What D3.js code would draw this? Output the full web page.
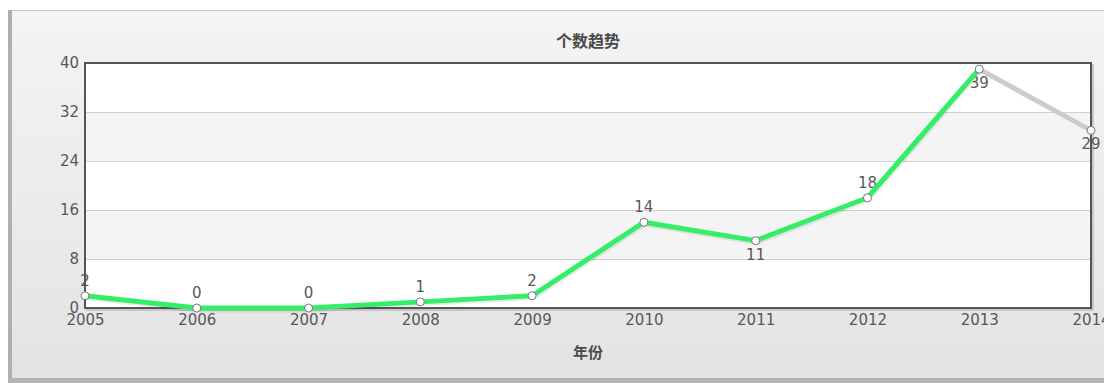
<!DOCTYPE html>
<html>
<head>
<meta charset="utf-8">
<script src="https://cdn.jsdelivr.net/npm/d3@7/dist/d3.min.js"></script>
<style>
  html, body { margin: 0; padding: 0; background: #fff; }
  svg { display: block; }
  .num { font-family: "DejaVu Sans", Verdana, sans-serif; font-size: 15px; fill: #585858; }
  .cap { font-family: "Noto Sans CJK SC", sans-serif; font-size: 15px; font-weight: bold; fill: #4a4a4a; }
</style>
</head>
<body>
<svg id="chart" width="1104" height="383"></svg>
<script>
// Yearly counts; the last year is drawn as a separate grey segment
const years = ["2005", "2006", "2007", "2008", "2009", "2010", "2011", "2012", "2013", "2014"];
const counts = [2, 0, 0, 1, 2, 14, 11, 18, 39, 29];
const labelSide = ["above", "above", "above", "above", "above", "above", "below", "above", "below", "below"];
const yTicks = [0, 8, 16, 24, 32, 40];
const chartTitle = "个数趋势";
const xTitle = "年份";

const W = 1104, H = 383;
const plot = { left: 85, top: 63, right: 1091, bottom: 308 };

const svg = d3.select("#chart");
const defs = svg.append("defs");

const grad = defs.append("linearGradient").attr("id", "panelFill")
  .attr("x1", 0).attr("y1", 0).attr("x2", 0).attr("y2", 1);
grad.append("stop").attr("offset", "0%").attr("stop-color", "#f4f4f4");
grad.append("stop").attr("offset", "100%").attr("stop-color", "#e3e3e3");

// Outer panel
svg.append("rect").attr("x", 10).attr("y", 10).attr("width", W).attr("height", 370)
  .attr("fill", "url(#panelFill)");
svg.append("line").attr("x1", 8).attr("x2", W).attr("y1", 10.5).attr("y2", 10.5)
  .attr("stroke", "#c4c4c4").attr("stroke-width", 1);
svg.append("rect").attr("x", 8).attr("y", 10).attr("width", 4).attr("height", 373)
  .attr("fill", "#b0b0b0");
svg.append("rect").attr("x", 8).attr("y", 378).attr("width", W).attr("height", 5)
  .attr("fill", "#b3b3b3");

const x = d3.scalePoint().domain(years).range([plot.left, plot.right]);
const y = d3.scaleLinear().domain([0, 40]).range([plot.bottom, plot.top]);

// Plot background and shadow
svg.append("rect")
  .attr("x", plot.left + 2).attr("y", plot.top + 2)
  .attr("width", plot.right - plot.left).attr("height", plot.bottom - plot.top)
  .attr("fill", "none").attr("stroke", "#c8c8c8").attr("stroke-width", 2);
svg.append("rect")
  .attr("x", plot.left).attr("y", plot.top)
  .attr("width", plot.right - plot.left).attr("height", plot.bottom - plot.top)
  .attr("fill", "#fff");

// Alternate bands
const bands = d3.pairs(yTicks).filter((_, i) => i % 2 === 1);
svg.append("g").selectAll("rect").data(bands).join("rect")
  .attr("x", plot.left).attr("width", plot.right - plot.left)
  .attr("y", d => y(d[1])).attr("height", d => y(d[0]) - y(d[1]))
  .attr("fill", "#f4f4f4");

// Horizontal gridlines
const grid = svg.append("g").attr("transform", `translate(${plot.left},0)`)
  .call(d3.axisLeft(y).tickValues(yTicks).tickSize(-(plot.right - plot.left)).tickFormat(""));
grid.select(".domain").remove();
grid.selectAll("line").attr("stroke", "#d0d0d0").attr("stroke-width", 1)
  .attr("shape-rendering", "crispEdges");

// Y axis labels
const yAxis = svg.append("g").attr("transform", `translate(${plot.left - 6},0)`)
  .call(d3.axisLeft(y).tickValues(yTicks).tickSize(0).tickPadding(0));
yAxis.select(".domain").remove();
yAxis.selectAll("text").attr("class", "num").attr("fill", null)
  .attr("font-family", null).attr("font-size", null);

// X axis labels
const xAxis = svg.append("g").attr("transform", `translate(0,${plot.bottom})`)
  .call(d3.axisBottom(x).tickSize(0).tickPadding(8));
xAxis.select(".domain").remove();
xAxis.selectAll("text").attr("class", "num").attr("fill", null)
  .attr("font-family", null).attr("font-size", null).attr("dy", "0.62em");

// Value labels
const pts = years.map((yr, i) => ({ yr, v: counts[i], side: labelSide[i] }));
svg.append("g").selectAll("text").data(pts).join("text")
  .attr("class", "num")
  .attr("text-anchor", "middle")
  .attr("x", d => x(d.yr))
  .attr("y", d => d.side === "above" ? y(d.v) - 10 : y(d.v) + 19)
  .text(d => d.v);

// Plot frame
svg.append("rect")
  .attr("x", plot.left).attr("y", plot.top)
  .attr("width", plot.right - plot.left).attr("height", plot.bottom - plot.top)
  .attr("fill", "none").attr("stroke", "#555").attr("stroke-width", 2);

// Lines
const line = d3.line().x(d => x(d.yr)).y(d => y(d.v));
const solid = pts.slice(0, pts.length - 1);
const tail = pts.slice(pts.length - 2);

svg.append("path").datum(solid).attr("d", line)
  .attr("transform", "translate(1,2)")
  .attr("fill", "none").attr("stroke", "rgba(0,0,0,0.08)").attr("stroke-width", 5)
  .attr("stroke-linejoin", "round");
svg.append("path").datum(tail).attr("d", line)
  .attr("fill", "none").attr("stroke", "#cccccc").attr("stroke-width", 5)
  .attr("stroke-linejoin", "round");
svg.append("path").datum(solid).attr("d", line)
  .attr("fill", "none").attr("stroke", "#33ee66").attr("stroke-width", 5)
  .attr("stroke-linejoin", "round");

// Markers
svg.append("g").selectAll("circle").data(pts).join("circle")
  .attr("cx", d => x(d.yr)).attr("cy", d => y(d.v)).attr("r", 4)
  .attr("fill", "#fff").attr("stroke", "#777").attr("stroke-width", 1);

// Titles
svg.append("text").attr("class", "cap").attr("text-anchor", "middle")
  .attr("x", (plot.left + plot.right) / 2).attr("y", 47)
  .style("font-size", "16px").text(chartTitle);
svg.append("text").attr("class", "cap").attr("text-anchor", "middle")
  .attr("x", (plot.left + plot.right) / 2).attr("y", 358).text(xTitle);
</script>
</body>
</html>
